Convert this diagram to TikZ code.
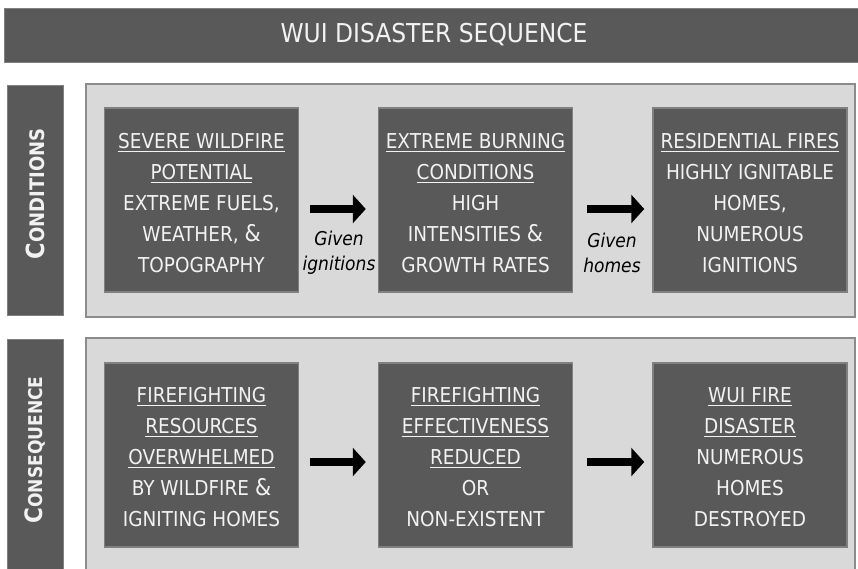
\documentclass[tikz,border=0pt]{standalone}
\usepackage{fontspec}
\setmainfont{DejaVu Sans Condensed}
\usetikzlibrary{arrows.meta,calc}
\definecolor{dark}{HTML}{595959}
\definecolor{darkedge}{HTML}{808080}
\definecolor{panel}{HTML}{D9D9D9}
\definecolor{paneledge}{HTML}{8C8C8C}
\definecolor{txt}{HTML}{F2F2F2}
\newcommand{\uln}[1]{\setbox0\hbox{#1}\rlap{\rule[-4pt]{\wd0}{1.4pt}}\box0}
\newcommand{\amp}{{\fontsize{23}{23}\selectfont\&}}
\tikzset{
  stepbox/.style={draw=darkedge, line width=1.5pt, fill=dark, minimum width=194pt,
    minimum height=184pt, inner sep=0pt},
  steptext/.style={text=txt, align=center, inner sep=0pt,
    font=\fontsize{20.5}{31}\selectfont},
  panelbox/.style={draw=paneledge, line width=1.5pt, fill=panel, minimum width=769pt, inner sep=0pt},
  labelbar/.style={fill=dark, draw=darkedge, line width=0.6pt, rotate=90, inner sep=0pt,
    minimum height=56pt},
  labeltext/.style={rotate=90, text=txt, font=\bfseries, inner sep=0pt},
  bigarrow/.style={-{Triangle[length=13pt,width=28pt]}, line width=8pt, black},
  givenlab/.style={font=\itshape\fontsize{19}{25}\selectfont, align=center, inner sep=0pt}
}
\begin{document}
\begin{tikzpicture}[x=1pt,y=-1pt]
\useasboundingbox (0,0) rectangle (858,568);
% title
\node[fill=dark, draw=darkedge, line width=0.6pt, minimum width=860pt, minimum height=54pt, text=txt,
  font=\fontsize{26}{26}\selectfont, inner sep=0pt] (title) at (434,35) {WUI DISASTER SEQUENCE};
% side labels
\node[labelbar, minimum width=230pt] (condlab) at (35,200) {};
\node[labeltext] (condtext) at (35,194) {\fontsize{25}{25}\selectfont C\fontsize{20}{20}\selectfont ONDITIONS};
\node[labelbar, minimum width=240pt] (conslab) at (35,459) {};
\node[labeltext] (constext) at (35,450) {\fontsize{24}{24}\selectfont C\fontsize{19}{19}\selectfont ONSEQUENCE};
% panels
\node[panelbox, minimum height=233pt] (condpanel) at (470.5,200.5) {};
\node[panelbox, minimum height=240pt] (conspanel) at (470.5,458) {};
% row 1
\node[stepbox] (a1) at (201.5,200) {};
\node[stepbox] (a2) at (475.5,200) {};
\node[stepbox] (a3) at (750,200) {};
\node[steptext] (ta1) at ($(a1)+(0,3)$) {\uln{SEVERE WILDFIRE}\\\uln{POTENTIAL}\\EXTREME FUELS,\\WEATHER, \amp\\TOPOGRAPHY};
\node[steptext] (ta2) at ($(a2)+(0,3)$) {\uln{EXTREME BURNING}\\\uln{CONDITIONS}\\HIGH\\INTENSITIES \amp\\GROWTH RATES};
\node[steptext] (ta3) at ($(a3)+(0,3)$) {\uln{RESIDENTIAL FIRES}\\HIGHLY IGNITABLE\\HOMES,\\NUMEROUS\\IGNITIONS};
% row 2
\node[stepbox] (b1) at (201.5,455) {};
\node[stepbox] (b2) at (475.5,455) {};
\node[stepbox] (b3) at (750,455) {};
\node[steptext] (tb1) at ($(b1)+(0,2)$) {\uln{FIREFIGHTING}\\\uln{RESOURCES}\\\uln{OVERWHELMED}\\BY WILDFIRE \amp\\IGNITING HOMES};
\node[steptext] (tb2) at ($(b2)+(0,2)$) {\uln{FIREFIGHTING}\\\uln{EFFECTIVENESS}\\\uln{REDUCED}\\OR\\NON-EXISTENT};
\node[steptext] (tb3) at ($(b3)+(0,2)$) {\uln{WUI FIRE}\\\uln{DISASTER}\\NUMEROUS\\HOMES\\DESTROYED};
% arrows
\draw[bigarrow] ($(a1.east)+(11,9)$) -- ($(a2.west)+(-12,9)$);
\draw[bigarrow] ($(a2.east)+(14,9)$) -- ($(a3.west)+(-8,9)$);
\draw[bigarrow] ($(b1.east)+(11,7)$) -- ($(b2.west)+(-12,7)$);
\draw[bigarrow] ($(b2.east)+(14,7)$) -- ($(b3.west)+(-8,7)$);
% labels
\node[givenlab] (g1) at (339,253) {Given\\ignitions};
\node[givenlab] (g2) at (612,253) {Given\\homes};
\end{tikzpicture}
\end{document}
